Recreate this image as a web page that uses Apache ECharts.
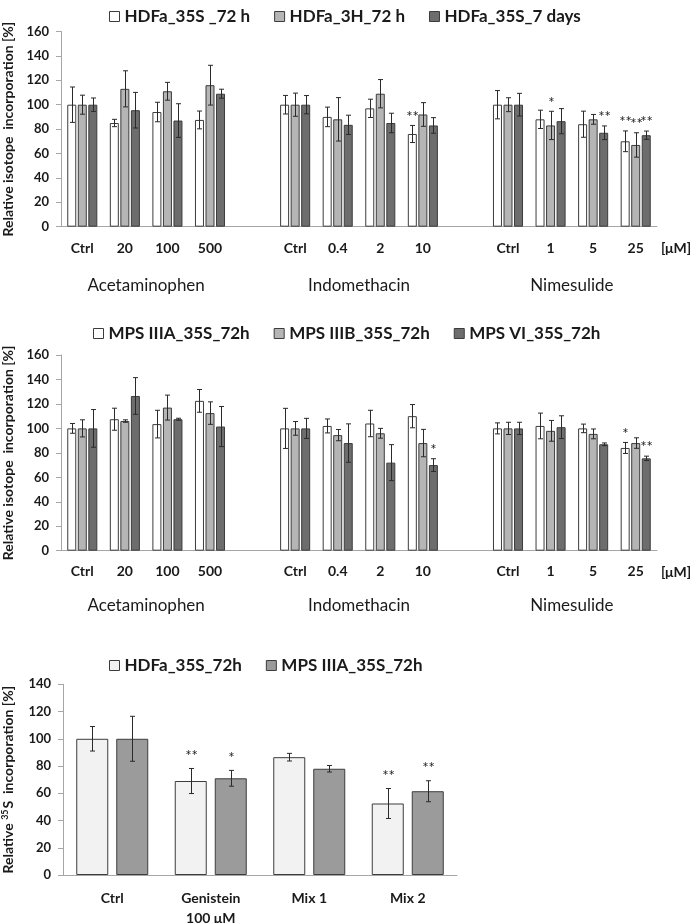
<!DOCTYPE html>
<html><head><meta charset="utf-8">
<script src="https://cdn.jsdelivr.net/npm/echarts@6/dist/echarts.min.js"></script>
<style>html,body{margin:0;padding:0;background:#fff}#c{width:697px;height:923px}</style>
</head><body><div id="c"></div>
<script>
// ---------- Chart A (top) ----------
const catsA = ['Ctrl','20','100','500','','Ctrl','0.4','2','10','','Ctrl','1','5','25'];
const groupsA = ['Acetaminophen','Indomethacin','Nimesulide'];
const namesA = ['HDFa_35S _72 h','HDFa_3H_72 h','HDFa_35S_7 days'];
const a1  = [100,85,94,87.5,null,100,90,97,76,null,100,88,84,70];
const a1e = [14.5,3,8,7.3,null,7.6,8,7.5,7,null,11.6,7.5,10.7,8.5];
const a1s = ['','','','','','','','','**','','','','','**'];
const a2  = [100,113,111,116,null,100,88,109,92,null,100,83,88,67];
const a2e = [7.8,14.8,7.3,16.3,null,9.5,17.8,11.6,9.7,null,5.7,11.6,4,10];
const a2s = ['','','','','','','','','','','','*','','**'];
const a3  = [100,95.5,87,109,null,100,83.5,85,83,null,100,86.5,77,75];
const a3e = [5.5,14.6,13.8,3.7,null,7.5,7.9,8,6.4,null,9.3,10.3,5.6,3.4];
const a3s = ['','','','','','','','','','','','','**','**'];

// ---------- Chart B (middle) ----------
const catsB = ['Ctrl','20','100','500','','Ctrl','0.4','2','10','','Ctrl','1','5','25'];
const groupsB = ['Acetaminophen','Indomethacin','Nimesulide'];
const namesB = ['MPS IIIA_35S_72h','MPS IIIB_35S_72h','MPS VI_35S_72h'];
const b1  = [100,107.5,103.5,122.5,null,100,102,104,110,null,100,102,100,84];
const b1e = [4,9,11.3,9.3,null,16.4,5.7,10.8,9.5,null,4.5,10.5,3.5,4.5];
const b1s = ['','','','','','','','','','','','','','*'];
const b2  = [100,106,117,112.5,null,100,94.5,96,88,null,100,98,95.5,88];
const b2e = [7,1,10.2,9.2,null,5.6,4.6,4,11.2,null,5,8.5,4,4.3];
const b2s = ['','','','','','','','','','','','','',''];
const b3  = [100,126.5,107.5,101.5,null,100,88,72,70,null,100,101,87,75.5];
const b3e = [15.4,15,0.8,16.4,null,8.2,15.7,14.7,5.2,null,5,9.3,1.1,1.8];
const b3s = ['','','','','','','','','*','','','','','**'];

// ---------- Chart C (bottom) ----------
const catsC = ['Ctrl','Genistein\n100 μM','Mix 1','Mix 2'];
const namesC = ['HDFa_35S_72h','MPS IIIA_35S_72h'];
const c1  = [100,69,86.5,52.5];
const c1e = [9,9.2,2.8,11];
const c1s = ['','**','','**'];
const c2  = [100,71,78,61.5];
const c2e = [16.5,5.8,2.4,7.7];
const c2s = ['','*','','**'];

const FONT = 'Lato';
const TXT = '#1a1a1a';
const AX = '#a6a6a6';
const BORDER = '#3c3c3c';
const COLA = ['#ffffff','#b5b5b5','#6d6d6d'];
const COLC = ['#f2f2f2','#9b9b9b'];

function groupAxisData(cats, groups){
  const arr = new Array(cats.length*2+1).fill('');
  groups.forEach((g,i)=>{ arr[10*i+4] = g; });
  return arr;
}

function bar(name, data, color, gi, bw, gap){
  return {type:'bar', name, data, xAxisIndex: gi*2, yAxisIndex: gi, barWidth: bw, barGap: gap,
    itemStyle:{color, borderColor: BORDER, borderWidth: 1}, silent:true, z:2};
}
function err(vals, errs, sigs, idx, n, gi, bw, gapFrac, cap, starSize, starDy){
  const data = [];
  vals.forEach((v,k)=>{ if(v!=null) data.push([k, v, errs[k]]); });
  return {type:'custom', xAxisIndex: gi*2, yAxisIndex: gi, data, z:5, silent:true,
    encode:{x:0, y:1},
    renderItem(params, api){
      const k = api.value(0), v = api.value(1), e = api.value(2);
      const t = api.coord([k, v+e]), b = api.coord([k, v-e]);
      const off = (idx-(n-1)/2)*bw*(1+gapFrac);
      const x = Math.round(t[0]+off)+0.5;
      const st = {stroke:'#2a2a2a', lineWidth:1};
      const ch = [
        {type:'line', shape:{x1:x,y1:t[1],x2:x,y2:b[1]}, style:st},
        {type:'line', shape:{x1:x-cap,y1:t[1],x2:x+cap,y2:t[1]}, style:st},
        {type:'line', shape:{x1:x-cap,y1:b[1],x2:x+cap,y2:b[1]}, style:st}
      ];
      const s = sigs[k];
      if(s){ ch.push({type:'text', style:{text:s, x:x, y:t[1]-starDy, align:'center', verticalAlign:'bottom',
        fontSize:starSize, fontFamily:FONT, fill:'#222'}}); }
      return {type:'group', children: ch};
    }};
}

function catAxis(gi, cats, opts){
  return Object.assign({gridIndex: gi, type:'category', data: cats,
    axisLine:{show:true, lineStyle:{color:AX, width:1}}, axisTick:{show:false},
    axisLabel:{interval:0, margin:15, fontFamily:FONT, fontWeight:'bold', fontSize:14, color:TXT}}, opts||{});
}
function grpAxis(gi, cats, groups, margin){
  return {gridIndex: gi, type:'category', data: groupAxisData(cats, groups), boundaryGap:false, position:'bottom',
    axisLine:{show:false}, axisTick:{show:false}, splitLine:{show:false},
    axisLabel:{interval:0, margin, fontFamily:FONT, fontSize:17, color:TXT}};
}
function valAxis(gi, max, name, gap, rich){
  return {gridIndex: gi, type:'value', min:0, max, interval:20,
    axisLine:{show:true, lineStyle:{color:AX}}, axisTick:{show:true, length:5, lineStyle:{color:AX}},
    splitLine:{show:false},
    axisLabel:{margin:12, fontFamily:FONT, fontWeight:'bold', fontSize:13, color:TXT},
    name, nameLocation:'middle', nameGap:gap, nameRotate:90,
    nameTextStyle:{fontFamily:FONT, fontWeight:'bold', fontSize:14, color:TXT, rich: rich||{}}};
}
function legend(names, colors, left, top){
  return {data: names.map((n,i)=>({name:n, itemStyle:{color:colors[i], borderColor:BORDER, borderWidth:1}})),
    left, top, icon:'rect', itemWidth:10, itemHeight:10, itemGap:24,
    textStyle:{fontFamily:FONT, fontWeight:'bold', fontSize:17, color:TXT}, selectedMode:false};
}

const muName = {name:'[μM]', nameLocation:'end', nameGap:4,
  nameTextStyle:{fontFamily:FONT, fontWeight:'bold', fontSize:14, color:TXT, verticalAlign:'top', padding:[15,0,0,0]}};

const W = 9, G = 0.17, W3 = 32, G3 = 0.25;
const option = {
  animation:false,
  backgroundColor:'#fff',
  grid:[
    {left:61, right:40, top:31.5, height:195.2, outerBoundsMode:'none'},
    {left:61, right:40, top:355, height:195.7, outerBoundsMode:'none'},
    {left:63, right:240, top:684.3, height:190.7, outerBoundsMode:'none'}
  ],
  legend:[ legend(namesA, COLA, 104, 3), legend(namesB, COLA, 88, 320), legend(namesC, COLC, 104, 652) ],
  xAxis:[
    catAxis(0, catsA, muName), grpAxis(0, catsA, groupsA, 50),
    catAxis(1, catsB, Object.assign({}, muName, {axisLabel:{interval:0, margin:14, fontFamily:FONT, fontWeight:'bold', fontSize:14, color:TXT}})),
    grpAxis(1, catsB, groupsB, 46),
    catAxis(2, catsC, {axisLabel:{interval:0, margin:13, lineHeight:20, fontFamily:FONT, fontWeight:'bold', fontSize:14, color:TXT}})
  ],
  yAxis:[
    valAxis(0, 160, 'Relative isotope  incorporation [%]', 45),
    valAxis(1, 160, 'Relative isotope  incorporation [%]', 45),
    valAxis(2, 140, 'Relative {sup|35}S  incorporation [%]', 47,
      {sup:{fontSize:9, fontFamily:FONT, fontWeight:'bold', color:TXT, verticalAlign:'top', padding:[0,1,6,0]}})
  ],
  series:[
    bar(namesA[0], a1, COLA[0], 0, W, '17%'), bar(namesA[1], a2, COLA[1], 0, W, '17%'), bar(namesA[2], a3, COLA[2], 0, W, '17%'),
    err(a1, a1e, a1s, 0, 3, 0, W, G, 2.5, 15, 1), err(a2, a2e, a2s, 1, 3, 0, W, G, 2.5, 15, 1), err(a3, a3e, a3s, 2, 3, 0, W, G, 2.5, 15, 1),
    bar(namesB[0], b1, COLA[0], 1, W, '17%'), bar(namesB[1], b2, COLA[1], 1, W, '17%'), bar(namesB[2], b3, COLA[2], 1, W, '17%'),
    err(b1, b1e, b1s, 0, 3, 1, W, G, 2.5, 15, 1), err(b2, b2e, b2s, 1, 3, 1, W, G, 2.5, 15, 1), err(b3, b3e, b3s, 2, 3, 1, W, G, 2.5, 15, 1),
    {type:'bar', name:namesC[0], data:c1, xAxisIndex:4, yAxisIndex:2, barWidth:W3, barGap:'25%', silent:true,
      itemStyle:{color:COLC[0], borderColor:BORDER, borderWidth:1}},
    {type:'bar', name:namesC[1], data:c2, xAxisIndex:4, yAxisIndex:2, barWidth:W3, barGap:'25%', silent:true,
      itemStyle:{color:COLC[1], borderColor:BORDER, borderWidth:1}},
    Object.assign(err(c1, c1e, c1s, 0, 2, 2, W3, G3, 2.5, 15, 5), {xAxisIndex:4}),
    Object.assign(err(c2, c2e, c2s, 1, 2, 2, W3, G3, 2.5, 15, 5), {xAxisIndex:4})
  ]
};
const chart = echarts.init(document.getElementById('c'), null, {renderer:'canvas'});
chart.setOption(option);
</script>
</body></html>
